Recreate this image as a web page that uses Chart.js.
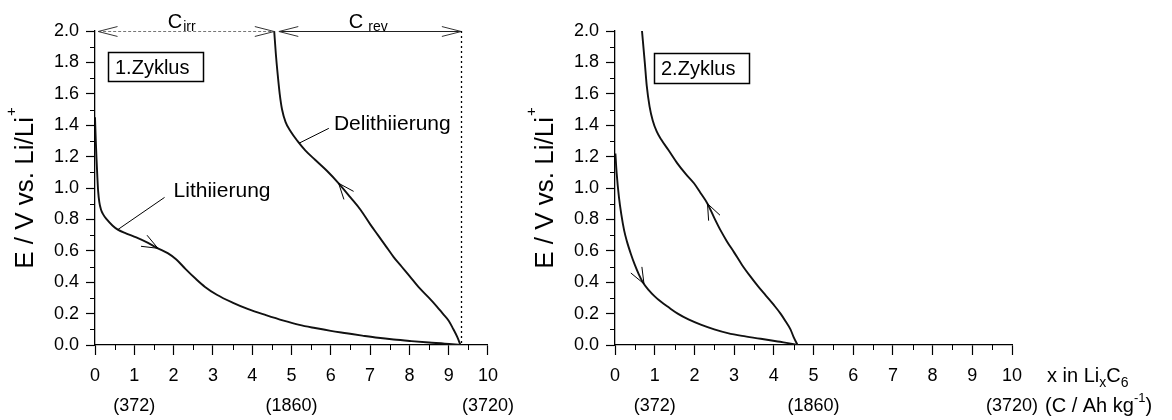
<!DOCTYPE html>
<html>
<head>
<meta charset="utf-8">
<script src="https://cdn.jsdelivr.net/npm/chart.js@4.4.1/dist/chart.umd.min.js"></script>
<style>
  html, body { margin: 0; padding: 0; background: #fff; }
  #wrap { position: relative; width: 1172px; height: 420px; }
  #c1 { position: absolute; left: 0; top: 0; width: 520px; height: 420px; }
  #c2 { position: absolute; left: 520px; top: 0; width: 652px; height: 420px; }
</style>
</head>
<body>
<div id="wrap">
  <canvas id="c1" width="520" height="420"></canvas>
  <canvas id="c2" width="652" height="420"></canvas>
</div>
<script>
// x axis: x in LixC6, second row is the capacity in C / Ah kg-1
const xTickValues = [0, 1, 2, 3, 4, 5, 6, 7, 8, 9, 10];
const capacityAt = [1, 5, 10];
const capacityText = ['(372)', '(1860)', '(3720)'];

// 1. Zyklus
const lith1X = [0, 0.02, 0.04, 0.06, 0.08, 0.11, 0.15, 0.2, 0.3, 0.45, 0.58, 0.8, 1.05, 1.35, 1.6, 1.85, 2.07, 2.3, 2.57, 2.8, 3.1, 3.5, 3.9, 4.35, 4.8, 5.2, 5.6, 6.0, 6.4, 6.8, 7.2, 7.6, 8.05, 8.5, 8.9, 9.3];
const lith1Y = [1.45, 1.3, 1.18, 1.07, 0.98, 0.91, 0.865, 0.835, 0.8, 0.76, 0.735, 0.71, 0.685, 0.65, 0.616, 0.585, 0.545, 0.485, 0.42, 0.37, 0.32, 0.27, 0.228, 0.19, 0.155, 0.128, 0.108, 0.09, 0.075, 0.06, 0.046, 0.035, 0.025, 0.016, 0.009, 0];
const delith1X = [9.3, 9.22, 9.12, 9.0, 8.85, 8.7, 8.5, 8.23, 8.0, 7.8, 7.6, 7.4, 7.2, 7.0, 6.76, 6.5, 6.2, 5.9, 5.6, 5.35, 5.15, 4.98, 4.85, 4.76, 4.7, 4.65, 4.6, 4.56];
const delith1Y = [0, 0.05, 0.1, 0.155, 0.2, 0.245, 0.3, 0.37, 0.44, 0.5, 0.56, 0.63, 0.7, 0.77, 0.86, 0.94, 1.03, 1.11, 1.18, 1.24, 1.3, 1.36, 1.42, 1.5, 1.6, 1.72, 1.86, 2.0];

// 2. Zyklus
const lith2X = [0.01, 0.04, 0.1, 0.16, 0.23, 0.3, 0.4, 0.5, 0.6, 0.7, 0.85, 1.0, 1.16, 1.35, 1.58, 1.85, 2.16, 2.5, 2.84, 3.2, 3.67, 4.1, 4.5, 4.6];
const lith2Y = [1.22, 1.1, 0.94, 0.83, 0.73, 0.66, 0.58, 0.51, 0.45, 0.4, 0.35, 0.31, 0.275, 0.24, 0.2, 0.163, 0.13, 0.1, 0.076, 0.058, 0.04, 0.022, 0.006, 0];
const delith2X = [4.6, 4.5, 4.42, 4.3, 4.17, 4.0, 3.8, 3.6, 3.4, 3.2, 3.0, 2.82, 2.66, 2.5, 2.33, 2.15, 1.99, 1.78, 1.57, 1.35, 1.16, 1.05, 0.95, 0.87, 0.8, 0.75, 0.68];
const delith2Y = [0, 0.05, 0.1, 0.15, 0.2, 0.255, 0.315, 0.375, 0.44, 0.51, 0.59, 0.66, 0.73, 0.81, 0.9, 0.97, 1.03, 1.09, 1.157, 1.24, 1.31, 1.36, 1.43, 1.52, 1.65, 1.8, 2.0];

const FONT = '"Liberation Sans", Arial, Helvetica, sans-serif';

function interpY(xs, ys, x) {
    for (let i = 0; i < xs.length - 1; i++) {
        const a = xs[i], b = xs[i + 1];
        if ((x - a) * (x - b) <= 0 && a !== b) {
            return ys[i] + (ys[i + 1] - ys[i]) * (x - a) / (b - a);
        }
    }
    return ys[ys.length - 1];
}

function richText(ctx, parts, x, y, align) {
    let w = 0;
    parts.forEach(p => {
        ctx.font = p.size + 'px ' + FONT;
        w += ctx.measureText(p.t).width + (p.gap || 0);
    });
    let cx = align === 'center' ? x - w / 2 : x;
    ctx.textAlign = 'left';
    ctx.textBaseline = 'alphabetic';
    parts.forEach(p => {
        ctx.font = p.size + 'px ' + FONT;
        cx += (p.gap || 0);
        ctx.fillText(p.t, cx, y + (p.dy || 0));
        cx += ctx.measureText(p.t).width;
    });
}

function arrowHead(ctx, tx, ty, fx, fy, len, half) {
    const ang = Math.atan2(ty - fy, tx - fx);
    ctx.beginPath();
    ctx.moveTo(tx - len * Math.cos(ang - half), ty - len * Math.sin(ang - half));
    ctx.lineTo(tx, ty);
    ctx.lineTo(tx - len * Math.cos(ang + half), ty - len * Math.sin(ang + half));
    ctx.stroke();
}

const panelDecor = {
    id: 'panelDecor',
    afterDraw(chart, args, o) {
        const ctx = chart.ctx;
        const a = chart.chartArea;
        const sx = chart.scales.x, sy = chart.scales.y;
        const px = v => sx.getPixelForValue(v);
        const py = v => sy.getPixelForValue(v);
        ctx.save();
        ctx.strokeStyle = '#000';
        ctx.fillStyle = '#000';
        ctx.lineWidth = 1;

        // minor ticks
        ctx.beginPath();
        for (let v = 0.1; v < 2; v += 0.2) {
            ctx.moveTo(a.left - 5, Math.round(py(v)) + 0.5);
            ctx.lineTo(a.left, Math.round(py(v)) + 0.5);
        }
        for (let v = 0.5; v < 10; v += 1) {
            ctx.moveTo(Math.round(px(v)) + 0.5, a.bottom);
            ctx.lineTo(Math.round(px(v)) + 0.5, a.bottom + 5);
        }
        ctx.stroke();

        // y axis title
        ctx.save();
        ctx.translate(a.left - 62, (a.top + a.bottom) / 2);
        ctx.rotate(-Math.PI / 2);
        richText(ctx, [{ t: 'E / V vs. Li/Li', size: 26 }, { t: '+', size: 15, dy: -17, gap: 1 }], 0, 0, 'center');
        ctx.restore();

        // cycle box
        const b = o.box;
        ctx.lineWidth = 1.5;
        ctx.strokeRect(a.left + b.dx + 0.5, a.top + b.dy + 0.5, b.w, b.h);
        ctx.font = '20px ' + FONT;
        ctx.textAlign = 'left';
        ctx.fillText(b.text, a.left + b.dx + 7, a.top + b.dy + 22);
        ctx.lineWidth = 1;

        // capacity spans at the top
        (o.spans || []).forEach(s => {
            ctx.save();
            ctx.strokeStyle = s.color;
            ctx.setLineDash(s.dash);
            ctx.beginPath();
            ctx.moveTo(px(s.from), py(s.y) + 0.5);
            ctx.lineTo(px(s.to), py(s.y) + 0.5);
            ctx.stroke();
            ctx.setLineDash([]);
            ctx.strokeStyle = '#333';
            arrowHead(ctx, px(s.from), py(s.y) + 0.5, px(s.from) + 10, py(s.y) + 0.5, 20, 0.25);
            arrowHead(ctx, px(s.to), py(s.y) + 0.5, px(s.to) - 10, py(s.y) + 0.5, 20, 0.25);
            ctx.restore();
            ctx.fillStyle = '#000';
            richText(ctx, s.label, px(s.labelX), py(s.y) - 3, 'left');
        });

        // vertical dotted marker
        if (o.marker) {
            ctx.save();
            ctx.setLineDash([2, 3]);
            ctx.lineWidth = 1.3;
            ctx.beginPath();
            ctx.moveTo(Math.round(px(o.marker)) + 0.5, py(2));
            ctx.lineTo(Math.round(px(o.marker)) + 0.5, py(0));
            ctx.stroke();
            ctx.restore();
        }

        // labels with leader lines
        (o.notes || []).forEach(n => {
            ctx.beginPath();
            ctx.moveTo(px(n.fromX), py(n.fromY));
            ctx.lineTo(px(n.toX), py(n.toY));
            ctx.stroke();
            ctx.font = '21px ' + FONT;
            ctx.textAlign = 'left';
            ctx.fillText(n.text, px(n.textX), py(n.textY));
        });

        // direction arrows on the curves
        (o.arrows || []).forEach(r => {
            const ds = chart.data.datasets[r.curve].data;
            const xs = ds.map(p => p.x), ys = ds.map(p => p.y);
            const tip = [px(r.at), py(interpY(xs, ys, r.at))];
            const back = r.at - r.dir * 0.12;
            const from = [px(back), py(interpY(xs, ys, back))];
            arrowHead(ctx, tip[0], tip[1], from[0], from[1], 17, 0.38);
        });

        // extra axis text
        (o.axisText || []).forEach(t => {
            richText(ctx, t.parts, a.right + t.dx, a.bottom + t.dy, 'left');
        });
        ctx.restore();
    }
};

function curve(xs, ys) {
    return {
        data: xs.map((x, i) => ({ x: x, y: ys[i] })),
        showLine: true,
        borderColor: '#111',
        borderWidth: 1.9,
        pointRadius: 0,
        fill: false,
        cubicInterpolationMode: 'monotone'
    };
}

function makePanel(id, curves, yAxisWidth, padRight, decor) {
    return new Chart(document.getElementById(id), {
        type: 'scatter',
        data: { datasets: curves },
        options: {
            responsive: false,
            animation: false,
            events: [],
            layout: { padding: { top: 31, right: padRight, bottom: 0, left: 0 } },
            plugins: {
                legend: { display: false },
                tooltip: { enabled: false },
                panelDecor: decor
            },
            scales: {
                x: {
                    type: 'linear',
                    min: 0,
                    max: 10,
                    afterFit: s => { s.height = 75; },
                    afterBuildTicks: s => { s.ticks = xTickValues.map(v => ({ value: v })); },
                    grid: { drawOnChartArea: false, drawTicks: true, tickLength: 10, tickColor: '#000', tickWidth: 1.2 },
                    border: { display: true, color: '#000', width: 1.3 },
                    ticks: {
                        padding: 6,
                        color: '#000',
                        maxRotation: 0,
                        autoSkip: false,
                        font: { family: FONT, size: 18, lineHeight: 1.66 },
                        callback: v => {
                            const k = capacityAt.indexOf(v);
                            return k >= 0 ? [String(v), capacityText[k]] : String(v);
                        }
                    }
                },
                y: {
                    type: 'linear',
                    min: 0,
                    max: 2,
                    afterFit: s => { s.width = yAxisWidth; },
                    grid: { drawOnChartArea: false, drawTicks: true, tickLength: 9, tickColor: '#000', tickWidth: 1.2 },
                    border: { display: true, color: '#000', width: 1.3 },
                    ticks: {
                        stepSize: 0.2,
                        padding: 7,
                        color: '#000',
                        font: { family: FONT, size: 18 },
                        callback: v => v.toFixed(1)
                    }
                }
            }
        },
        plugins: [panelDecor]
    });
}

makePanel('c1', [curve(lith1X, lith1Y), curve(delith1X, delith1Y)], 95, 30, {
    box: { dx: 13, dy: 21, w: 95, h: 29, text: '1.Zyklus' },
    spans: [
        { from: 0.08, to: 4.56, y: 2.0, color: '#777', dash: [3, 2], labelX: 1.85,
          label: [{ t: 'C', size: 20 }, { t: 'irr', size: 14, dy: 3, gap: 1 }] },
        { from: 4.68, to: 9.32, y: 2.0, color: '#222', dash: [], labelX: 6.46,
          label: [{ t: 'C', size: 20 }, { t: 'rev', size: 14, dy: 3, gap: 5 }] }
    ],
    marker: 9.32,
    notes: [
        { text: 'Lithiierung', fromX: 0.58, fromY: 0.735, toX: 1.77, toY: 0.94, textX: 2.0, textY: 0.943 },
        { text: 'Delithiierung', fromX: 5.19, fromY: 1.285, toX: 5.95, toY: 1.38, textX: 6.08, textY: 1.37 }
    ],
    arrows: [
        { curve: 0, at: 1.6, dir: 1 },
        { curve: 1, at: 6.2, dir: -1 }
    ]
});

makePanel('c2', [curve(lith2X, lith2Y), curve(delith2X, delith2Y)], 95, 160, {
    box: { dx: 39, dy: 22, w: 95, h: 30, text: '2.Zyklus' },
    arrows: [
        { curve: 0, at: 0.73, dir: 1 },
        { curve: 1, at: 2.33, dir: -1 }
    ],
    axisText: [
        { dx: 35, dy: 37, parts: [{ t: 'x in Li', size: 20 }, { t: 'x', size: 14, dy: 5 }, { t: 'C', size: 20 }, { t: '6', size: 14, dy: 5 }] },
        { dx: 33, dy: 67, parts: [{ t: '(C / Ah kg', size: 20 }, { t: '-1', size: 13, dy: -10 }, { t: ')', size: 20 }] }
    ]
});
</script>
</body>
</html>
